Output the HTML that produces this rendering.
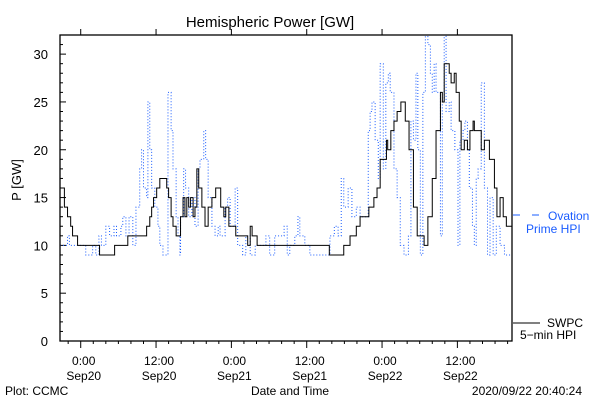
<!DOCTYPE html>
<html><head><meta charset="utf-8"><style>
body{margin:0;background:#fff;}
svg{display:block;font-family:"Liberation Sans",sans-serif;}
</style></head><body>
<svg id="chart" width="600" height="400" viewBox="0 0 600 400" xmlns="http://www.w3.org/2000/svg">
<rect width="600" height="400" fill="#fff"/>
<text x="270" y="27" font-size="15" text-anchor="middle">Hemispheric Power [GW]</text>
<text x="0" y="0" font-size="13" text-anchor="middle" transform="translate(21,180) rotate(-90)">P [GW]</text>
<text x="290" y="395" font-size="12" text-anchor="middle">Date and Time</text>
<text x="5" y="395" font-size="12">Plot: CCMC</text>
<text x="582" y="395" font-size="12" text-anchor="end">2020/09/22 20:40:24</text>
<g id="axes"></g>
<defs><clipPath id="clip"><rect x="60" y="35" width="452" height="306"/></clipPath></defs>
<g clip-path="url(#clip)">
<path id="blue" fill="none" stroke="#1a5cff" stroke-width="1" stroke-dasharray="1 2"/>
<path id="black" fill="none" stroke="#000" stroke-width="1"/>
</g>
<rect x="60" y="35" width="452" height="306" fill="none" stroke="#000" stroke-width="1.3"/>
<g>
<line x1="513" y1="215" x2="520" y2="215" stroke="#1a5cff"/>
<line x1="532" y1="215" x2="539" y2="215" stroke="#1a5cff"/>
<text x="548" y="220" font-size="12" fill="#1a5cff">Ovation</text>
<text x="526" y="233" font-size="12" fill="#1a5cff">Prime HPI</text>
</g>
<g>
<line x1="513" y1="323" x2="540" y2="323" stroke="#000"/>
<text x="547" y="327" font-size="12">SWPC</text>
<text x="520" y="339" font-size="12">5−min HPI</text>
</g>
</svg>
<script>
const yTicks=[0,5,10,15,20,25,30];
const xTickHours=[0,12,24,36,48,60];
const xTickTimes=["0:00","12:00","0:00","12:00","0:00","12:00"];
const xTickDates=["Sep20","Sep20","Sep21","Sep21","Sep22","Sep22"];
const swpcHours=[-3.3,-2.6,-2.1,-1.6,-1.3,-0.5,3.0,5.4,7.5,10.5,11.0,11.3,11.6,12.1,12.6,13.7,14.0,14.4,14.7,15.2,15.9,16.3,16.6,16.9,17.2,17.5,17.9,18.2,18.5,18.8,19.3,19.8,20.3,20.9,21.5,22.3,22.8,23.1,23.6,24.7,26.3,26.6,27.0,27.3,28.1,39.6,41.9,42.9,43.9,44.5,45.9,46.7,47.2,47.7,48.7,48.9,49.4,49.9,50.4,51.0,51.7,52.3,53.0,53.6,54.7,55.3,56.0,56.6,57.3,57.6,57.9,58.7,59.0,59.5,59.8,60.3,60.6,61.1,61.6,62.0,62.5,62.7,63.8,64.3,65.1,65.9,66.3,66.8,67.3,67.8,68.1];
const swpcValues=[16,14,13,12,11,10,9,10,11,12,13,14,15,16,17,16,15,13,12,11,13,15,13,15,14,15,13,14,18,16,14,12,14,15,16,14,13,14,12,11,11,10,12,11,10,9,10,11,12,13,14,15,16,19,21,20,22,23,24,25,23,20,14,11,10,13,17,22,26,25,29,28,27,28,26,23,20,21,20,22,23,22,20,21,19,16,13,15,13,12,12];
const ovationHours=[-3.3,-2.2,-2.1,-1.8,-1.0,-0.2,0.8,1.4,1.9,2.4,2.9,3.3,4.0,4.6,5.3,5.7,6.4,6.7,7.2,7.7,8.3,8.8,9.4,9.7,10.0,10.5,10.7,11.0,11.3,11.8,12.3,12.6,13.1,13.7,13.9,14.4,14.7,15.2,15.5,15.8,15.9,16.4,16.7,17.2,17.7,18.2,18.7,19.0,19.6,19.9,20.3,20.9,21.4,21.9,22.2,23.0,23.4,23.8,24.6,25.0,25.8,26.3,27.0,27.8,28.5,29.5,30.1,30.9,31.7,32.4,32.9,33.3,34.1,34.6,34.9,35.7,36.5,37.8,39.7,40.4,41.0,41.5,41.9,42.6,43.2,43.9,44.5,45.5,45.8,46.1,46.4,46.9,47.4,47.7,48.2,48.6,49.0,49.3,49.9,50.4,50.9,51.5,52.2,52.6,53.0,53.4,53.7,54.1,54.5,54.9,55.3,55.7,56.0,56.3,56.6,57.3,57.6,57.9,58.2,58.7,59.0,59.6,60.1,60.4,60.9,61.2,61.6,61.9,62.4,62.7,63.0,63.3,63.8,64.3,64.8,65.2,65.7,66.2,66.8,67.5,68.1,68.7];
const ovationValues=[10,10,11,10,10,10,9,9,10,9,11,10,12,11,12,11,12,13,11,13,10,14,18,20,16,15,25,20,16,14,12,10,9,9,26,22,18,13,11,9,13,18,16,13,15,12,18,19,22,19,15,12,11,12,11,14,15,12,16,10,9,11,9,10,10,11,9,11,11,12,9,10,11,13,11,10,9,9,11,12,11,17,14,16,13,14,13,13,22,24,25,21,17,29,18,27,28,26,18,15,10,9,11,23,21,28,20,9,26,32,31,28,26,29,26,11,25,32,24,25,22,20,10,21,22,23,20,16,12,10,17,18,27,16,9,15,9,12,10,9,9,9];
const L=60,R=512,T=35,B=341,H0=-3.3,H1=68.7,YMAX=32;
const xs=h=>L+(h-H0)/(H1-H0)*(R-L);
const ys=v=>B-v/YMAX*(B-T);
const NS="http://www.w3.org/2000/svg";
const ax=document.getElementById('axes');
function mk(tag,attrs){const e=document.createElementNS(NS,tag);for(const k in attrs)e.setAttribute(k,attrs[k]);ax.appendChild(e);return e;}
for(let v=0;v<=YMAX;v++){
  const major=v%5===0;
  const t=mk('line',{x1:L,x2:L+(major?6:3),y1:ys(v),y2:ys(v),stroke:'#000'});
  
  
}
yTicks.forEach(v=>{
  const t=mk('text',{x:48,y:ys(v)+5,'font-size':13,'text-anchor':'end'});
  
  
  t.textContent=v;
});
for(let h=-2;h<=68;h+=2){
  const major=h%12===0;
  const t=mk('line',{x1:xs(h),x2:xs(h),y1:B,y2:B+(major?7:3),stroke:'#000'});
  
  
  if(major){const u=mk('line',{x1:xs(h),x2:xs(h),y1:T,y2:T-6,stroke:'#000'});
  
  }
}
xTickHours.forEach((h,i)=>{
  const a=mk('text',{x:xs(h)+3,y:365,'font-size':12,'text-anchor':'middle'});
  
  
  a.textContent=xTickTimes[i];
  const b=mk('text',{x:xs(h)+3,y:380,'font-size':12,'text-anchor':'middle'});
  
  
  b.textContent=xTickDates[i];
});
function stepPath(hs,vs){let d='M'+xs(hs[0])+','+ys(vs[0]);for(let i=1;i<hs.length;i++){d+=' H'+xs(hs[i])+' V'+ys(vs[i]);}d+=' H'+R;return d;}
document.getElementById('black').setAttribute('d',stepPath(swpcHours,swpcValues));
document.getElementById('blue').setAttribute('d',stepPath(ovationHours,ovationValues));
</script>
</body></html>
